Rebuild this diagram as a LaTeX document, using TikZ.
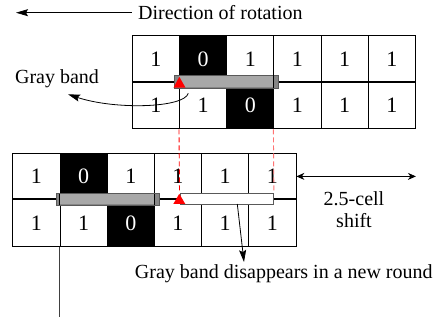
\documentclass[tikz,border=0pt]{standalone}
\usepackage{fontspec}
\setmainfont{Liberation Serif}
\usetikzlibrary{arrows.meta}
\begin{document}
\begin{tikzpicture}[x=1pt,y=-1pt,
 cell/.style={draw, line width=0.9pt, minimum width=47.2pt, minimum height=46.7pt, inner sep=0pt, font=\fontsize{22}{26}\selectfont, anchor=north west},
 zero/.style={cell, fill=black, text=white},
 lbl/.style={font=\fontsize{20}{21.7}\selectfont, inner sep=0pt},
 midline/.style={line width=1.6pt},
 bandout/.style={fill=gray!95, draw=black!65, line width=0.8pt, anchor=north west, inner sep=0pt},
 bandin/.style={fill=gray!68, draw=none, anchor=north west, inner sep=0pt},
 wband/.style={fill=white, draw=black!65, line width=0.8pt, anchor=north west, inner sep=0pt},
 redtri/.style={fill=red, draw=none},
 reddash/.style={dash pattern=on 5pt off 3pt, line width=0.9pt},
 arr/.style={-{Stealth[length=12pt,width=7pt,inset=2pt]}, line width=0.8pt},
 darr/.style={{Stealth[length=8pt,width=7pt]}-{Stealth[length=8pt,width=7pt]}, line width=0.8pt}
]
\useasboundingbox (0,0) rectangle (437,320);
% top grid
\foreach \i/\s/\v in {1/cell/1,2/zero/0,3/cell/1,4/cell/1,5/cell/1,6/cell/1}
  \node[\s] (tA\i) at ({131.8+47.2*(\i-1)},35) {\v};
\foreach \i/\s/\v in {1/cell/1,2/cell/1,3/zero/0,4/cell/1,5/cell/1,6/cell/1}
  \node[\s] (tB\i) at ({131.8+47.2*(\i-1)},81.7) {\v};
% bottom grid
\foreach \i/\s/\v in {1/cell/1,2/zero/0,3/cell/1,4/cell/1,5/cell/1,6/cell/1}
  \node[\s] (bA\i) at ({12.3+47.2*(\i-1)},152.6) {\v};
\foreach \i/\s/\v in {1/cell/1,2/cell/1,3/zero/0,4/cell/1,5/cell/1,6/cell/1}
  \node[\s] (bB\i) at ({12.3+47.2*(\i-1)},199.3) {\v};
\draw[midline] (tB1.north west) -- (tB6.north east);
\draw[midline] (bB1.north west) -- (bB6.north east);
% bottom pointer line
\coordinate (vend) at (59.5,316.7);
\draw[line width=0.9pt, black!75] (bB2.south west) -- (vend);
% top gray band
\node[bandout, minimum width=104pt, minimum height=12.7pt] (tband) at (174.3,75) {};
\node[bandin, minimum width=94.2pt, minimum height=11.7pt] (tbandin) at (179.2,75.5) {};
\draw[line width=0.9pt] (tbandin.north east) -- (tbandin.south east);
% bottom gray band
\node[bandout, minimum width=103.3pt, minimum height=11.6pt] (bband) at (55.7,193.2) {};
\node[bandin, minimum width=94.4pt, minimum height=10.6pt] (bbandin) at (59.5,193.7) {};
\draw[line width=0.9pt] (bbandin.north west) -- (bbandin.south west);
\draw[line width=0.9pt] (bbandin.north east) -- (bbandin.south east);
% white band
\node[wband, minimum width=93.6pt, minimum height=11.3pt] (wb) at (179.5,192.7) {};
% red dashed lines
\draw[reddash, red] (tB2.south west) -- (wb.north west);
\draw[reddash, red!55] (tB4.south west) -- (wb.north east);
% red triangles
\coordinate (ta) at (179.3,76.8);
\fill[redtri] (ta) -- (173.5,87.7) -- (185.5,87.7) -- cycle;
\coordinate (ba) at (179.3,193.8);
\fill[redtri] (ba) -- (173.3,204) -- (185.3,204) -- cycle;
% labels
\node[lbl, anchor=west] (dir) at (138,12.7) {Direction of rotation};
\coordinate (d1) at (131.7,12.7);
\coordinate (d2) at (16,12.7);
\draw[arr] (d1) -- (d2);
\node[lbl] (gb) at (57,79) {Gray band};
\coordinate (gbs) at (188.3,93.3);
\coordinate (gbe) at (68,94.3);
\draw[arr] (gbs) .. controls (184,108) and (115,110) .. (gbe);
\node[lbl] (gone) at (283.8,273.5) {Gray band disappears in a new round};
\coordinate (g1) at (237.3,204);
\coordinate (g2) at (244,262);
\draw[arr] (g1) -- (g2);
\node[lbl, align=center] (shift) at (354,210) {2.5-cell\\shift};
\draw[darr] (bA6.east) -- (tA6.south east |- bA6.east);
\end{tikzpicture}
\end{document}
